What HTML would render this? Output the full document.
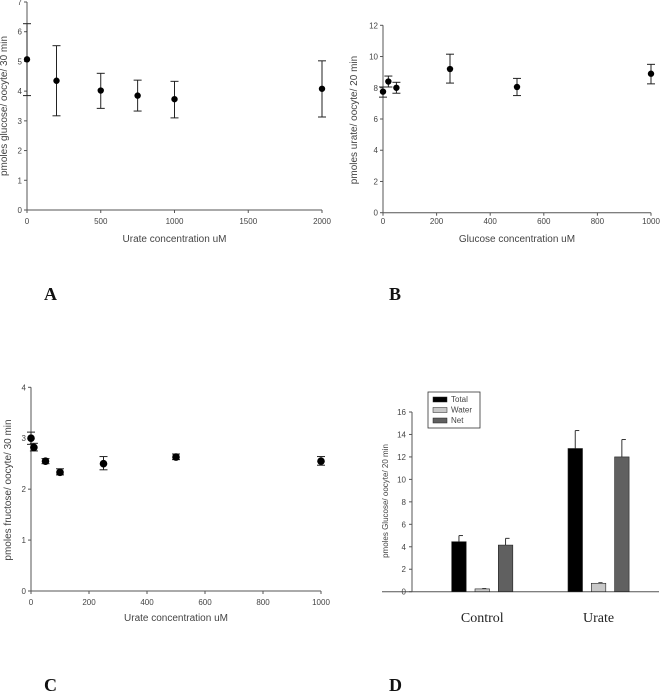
<!DOCTYPE html>
<html><head><meta charset="utf-8"><style>
body{margin:0;background:#fff;width:669px;height:692px;overflow:hidden}
svg{display:block;font-family:"Liberation Sans",sans-serif}
.t{font-size:8px;fill:#444}
.ti{font-size:10px;fill:#444}
.L{font-family:"Liberation Serif",serif;font-weight:bold;font-size:18px;fill:#111}
</style></head><body>
<svg id="s" width="669" height="692" viewBox="0 0 669 692">
<text class="L" x="44" y="300">A</text>
<text class="L" x="389" y="300">B</text>
<text class="L" x="44" y="691">C</text>
<text class="L" x="389" y="691">D</text>
</svg>
<script>
const aX=[0,200,500,750,1000,2000], aY=[5.07,4.35,4.02,3.85,3.73,4.08], aLo=[3.85,3.17,3.42,3.33,3.1,3.13], aHi=[6.27,5.53,4.6,4.37,4.33,5.02];
const aXT=[0,500,1000,1500,2000], aYT=[0,1,2,3,4,5,6,7];
const bX=[0,20,50,250,500,1000], bY=[7.75,8.4,8.0,9.2,8.05,8.9], bLo=[7.4,8.05,7.65,8.3,7.5,8.25], bHi=[8.05,8.75,8.35,10.15,8.6,9.5];
const bXT=[0,200,400,600,800,1000], bYT=[0,2,4,6,8,10,12];
const cX=[0,10,50,100,250,500,1000], cY=[3.0,2.82,2.55,2.33,2.5,2.63,2.55], cLo=[2.88,2.75,2.5,2.28,2.38,2.58,2.47], cHi=[3.12,2.9,2.6,2.4,2.64,2.69,2.64];
const cXT=[0,200,400,600,800,1000], cYT=[0,1,2,3,4];
const dCats=['Control','Urate'], dSeries=['Total','Water','Net'];
const dVals=[[4.45,0.25,4.15],[12.75,0.75,12.0]], dErr=[[5.0,0.28,4.75],[14.35,0.8,13.55]];
const dYT=[0,2,4,6,8,10,12,14,16];
const S=document.getElementById('s'),NS='http://www.w3.org/2000/svg';
function el(t,a,txt){const e=document.createElementNS(NS,t);for(const k in a)e.setAttribute(k,a[k]);if(txt!==undefined)e.textContent=txt;S.appendChild(e);return e;}
function scatter(id,X,Y,Lo,Hi,XT,YT,x0,x1,xmax,y0,y1,ymax,xt,yt,tx,ty,lblY,ttlY,r,cap){
 const sx=v=>x0+(x1-x0)*v/xmax, sy=v=>y0-(y0-y1)*v/ymax;
 let e=el('line',{x1:x0,y1:y0,x2:x0,y2:y1,stroke:'#555','stroke-width':1});
 
 
 e=el('line',{x1:x0,y1:y0,x2:x1,y2:y0,stroke:'#555','stroke-width':1});
 
 
 YT.forEach(v=>{el('line',{x1:x0-3,y1:sy(v),x2:x0,y2:sy(v),stroke:'#555'});
  e=el('text',{class:'t',x:x0-5,y:sy(v)+3,'text-anchor':'end'},v);
  
  });
 XT.forEach(v=>{el('line',{x1:sx(v),y1:y0,x2:sx(v),y2:y0+3,stroke:'#555'});
  e=el('text',{class:'t',x:sx(v),y:lblY,'text-anchor':'middle'},v);
  
  });
 if(xt){e=el('text',{class:'ti',x:(x0+x1)/2,y:ttlY,'text-anchor':'middle'},xt);
  
  }
 e=el('text',{class:'ti',x:tx,y:ty,'text-anchor':'middle',transform:`rotate(-90 ${tx} ${ty})`},yt);
 
 
 X.forEach((v,i)=>{const cx=sx(v);
  el('line',{x1:cx,y1:sy(Lo[i]),x2:cx,y2:sy(Hi[i]),stroke:'#222'});
  el('line',{x1:cx-cap,y1:sy(Lo[i]),x2:cx+cap,y2:sy(Lo[i]),stroke:'#222'});
  el('line',{x1:cx-cap,y1:sy(Hi[i]),x2:cx+cap,y2:sy(Hi[i]),stroke:'#222'});
  e=el('circle',{cx:cx,cy:sy(Y[i]),r:r,fill:'#000'});
  
  });
}
scatter('chart-a',aX,aY,aLo,aHi,aXT,aYT,27,322,2000,210,2,7,'Urate concentration uM','pmoles glucose/ oocyte/ 30 min',7,106,224,242,3.2,4);
scatter('chart-b',bX,bY,bLo,bHi,bXT,bYT,383,651,1000,212.7,25.3,12,'Glucose concentration uM','pmoles urate/ oocyte/ 20 min',357,120,224,242,3.2,4);
scatter('chart-c',cX,cY,cLo,cHi,cXT,cYT,31,321,1000,591,387.3,4,'Urate concentration uM','pmoles fructose/ oocyte/ 30 min',11,490,605,621,3.8,4);
const dx0=412,dx1=659,dy0=591.7,dy1=412,dmax=16,dsy=v=>dy0-(dy0-dy1)*v/dmax;
const groupStart=[451.7,568], barW=14.5, barGap=23.3, colors=['#000','#c8c8c8','#606060'];
let e=el('line',{x1:dx0,y1:dy0,x2:dx0,y2:dy1,stroke:'#555'});


e=el('line',{x1:dx0-30,y1:dy0,x2:dx1,y2:dy0,stroke:'#555'});


dYT.forEach(v=>{el('line',{x1:dx0-3,y1:dsy(v),x2:dx0,y2:dsy(v),stroke:'#555'});
 e=el('text',{class:'t',x:dx0-6,y:dsy(v)+3,'text-anchor':'end','font-size':'7px'},v);
 
 });
e=el('text',{class:'t',x:388,y:501,'text-anchor':'middle','font-size':'9px',transform:'rotate(-90 388 501)'},'pmoles Glucose/ oocyte/ 20 min');


dCats.forEach((c,g)=>{
 dSeries.forEach((s,k)=>{const x=groupStart[g]+k*barGap;
  el('line',{x1:x+barW/2,y1:dsy(dVals[g][k]),x2:x+barW/2,y2:dsy(dErr[g][k]),stroke:'#333'});
  el('line',{x1:x+barW/2,y1:dsy(dErr[g][k]),x2:x+barW/2+4,y2:dsy(dErr[g][k]),stroke:'#333'});
  e=el('rect',{x:x,y:dsy(dVals[g][k]),width:barW,height:dy0-dsy(dVals[g][k]),fill:colors[k],stroke:'#222','stroke-width':0.6});
  
  });
 e=el('text',{x:groupStart[g]+barGap+barW/2,y:622,'text-anchor':'middle','font-family':'Liberation Serif, serif','font-size':'14px',fill:'#222'},c);
 
 
});
e=el('rect',{x:428,y:392,width:52,height:36,fill:'#fff',stroke:'#333','stroke-width':0.8});


dSeries.forEach((s,k)=>{
 el('rect',{x:433,y:397+k*10.5,width:14,height:5,fill:colors[k],stroke:'#222','stroke-width':0.5});
 e=el('text',{class:'t',x:451,y:402+k*10.5,'font-size':'7px',fill:'#222'},s);
 
 
});
</script>
</body></html>
